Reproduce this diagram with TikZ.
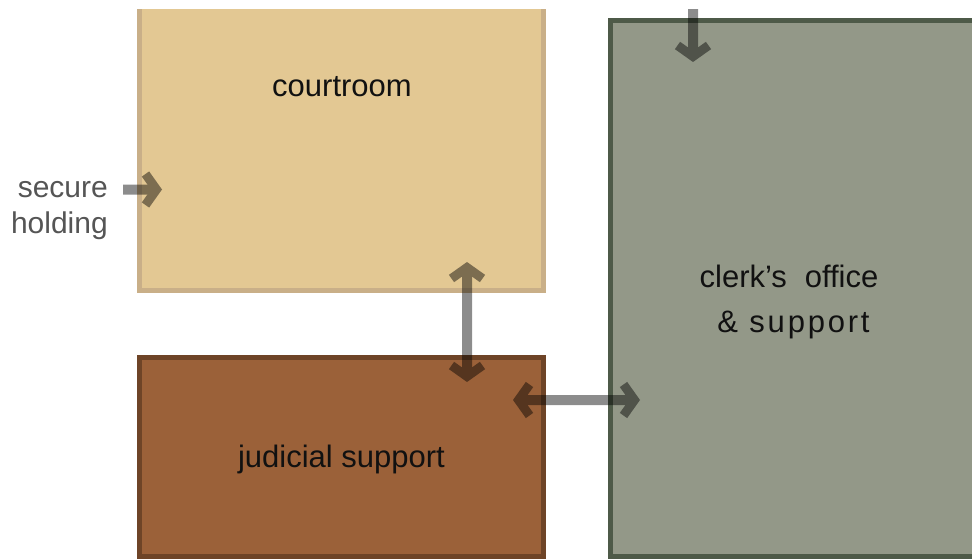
\documentclass[tikz,border=0pt]{standalone}
\usepackage{fontspec}
\setmainfont{Liberation Sans}
\usetikzlibrary{arrows.meta}
\definecolor{courtfill}{HTML}{E3C893}
\definecolor{courtline}{HTML}{C9AF88}
\definecolor{judfill}{HTML}{9B6139}
\definecolor{judline}{HTML}{6E4427}
\definecolor{clerkfill}{HTML}{939888}
\definecolor{clerkline}{HTML}{4E5A48}
\definecolor{labelgray}{HTML}{555555}
\definecolor{labelink}{HTML}{111111}
\tikzset{
  chevron/.tip={Straight Barb[sharp, length=11pt, width=31pt, line width=9pt]}
}
\begin{document}
\begin{tikzpicture}[x=1pt,y=-1pt,
  roombox/.style={rectangle, inner sep=0pt, line width=5pt},
  roomlabel/.style={anchor=base, inner sep=0pt, text=labelink, font=\fontsize{31}{37}\selectfont},
  sidelabel/.style={anchor=base east, inner sep=0pt, text=labelgray, font=\fontsize{30}{36}\selectfont},
  flow/.style={draw=black, line width=10pt, arrows={-chevron}},
  flowboth/.style={draw=black, line width=10pt, arrows={chevron-chevron}}
]
\useasboundingbox (0,0) rectangle (972,559);
\begin{scope}
\clip (0,9.5) rectangle (972,559);
% rooms
\node[roombox, fill=courtfill, draw=courtline, minimum width=404pt, minimum height=310pt] (court) at (341.5,135) {};
\node[roombox, fill=judfill, draw=judline, minimum width=404pt, minimum height=199pt] (judicial) at (341.5,457) {};
\node[roombox, fill=clerkfill, draw=clerkline, minimum width=389.5pt, minimum height=536pt] (clerk) at (805.25,288.5) {};
% labels
\node[roomlabel] (courtlabel) at (342,97) {courtroom};
\node[roomlabel] (judlabel) at (341.5,467) {judicial support};
\node[roomlabel] (clerklabelA) at (789,287) {clerk’s\hspace{0.3em} office};
\node[roomlabel] (clerklabelB) at (793.5,332) {\addfontfeature{LetterSpace=9}\& support};
\node[sidelabel] (secureA) at (108,197) {secure};
\node[sidelabel] (secureB) at (108,233) {holding};
% connector ends
\coordinate (topin) at (693,0);
\coordinate (topend) at (693,62);
\coordinate (holdin) at (123,189.5);
\coordinate (holdend) at (162,189.5);
\coordinate (vup) at (467,262);
\coordinate (vdown) at (467,382);
\coordinate (hleft) at (513,400);
\coordinate (hright) at (640,400);
% connectors
\begin{scope}[transparency group, opacity=0.45]
\draw[flow] (topin) -- (topend);
\draw[flow] (holdin) -- (holdend);
\draw[flowboth] (vup) -- (vdown);
\draw[flowboth] (hleft) -- (hright);
\end{scope}
\end{scope}
\end{tikzpicture}
\end{document}
